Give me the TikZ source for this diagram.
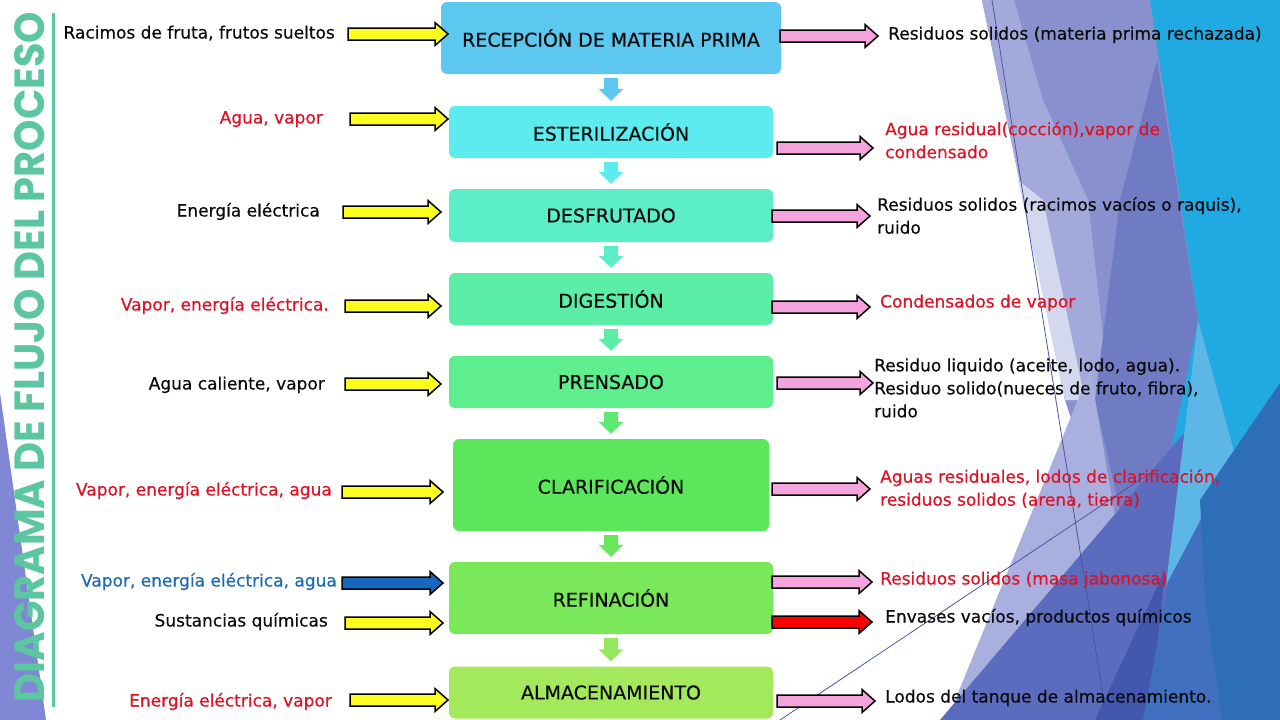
\documentclass[tikz,border=0pt]{standalone}
\usepackage{fontspec}
\usepackage{graphicx}
\setmainfont{DejaVu Sans}[FakeBold=0.4]
\newfontfamily\titlefont{Poppins}
\usetikzlibrary{calc}

\definecolor{cA}{RGB}{92,200,240}
\definecolor{cB}{RGB}{92,236,240}
\definecolor{cC}{RGB}{92,238,200}
\definecolor{cD}{RGB}{92,238,166}
\definecolor{cE}{RGB}{94,238,142}
\definecolor{cF}{RGB}{92,230,92}
\definecolor{cG}{RGB}{122,232,90}
\definecolor{cH}{RGB}{164,232,92}
\definecolor{txtblack}{RGB}{10,10,10}
\definecolor{txtred}{RGB}{222,18,36}
\definecolor{txtblue}{RGB}{28,108,178}
\definecolor{ayellow}{RGB}{252,252,30}
\definecolor{apink}{RGB}{245,163,220}
\definecolor{ablue}{RGB}{22,104,190}
\definecolor{ared}{RGB}{250,0,0}
\definecolor{titlegreen}{RGB}{92,198,160}
\definecolor{bgBright}{RGB}{33,169,225}
\definecolor{bgLav}{RGB}{136,145,205}
\definecolor{bgLight}{RGB}{163,170,219}
\definecolor{bgVLight}{RGB}{212,216,239}
\definecolor{bgSlate}{RGB}{111,124,196}
\definecolor{bgBotLight}{RGB}{169,176,224}
\definecolor{bgSlate2}{RGB}{91,107,190}
\definecolor{bgIndigo}{RGB}{66,87,174}
\definecolor{bgMedBlue}{RGB}{64,112,191}
\definecolor{bgLightBlue}{RGB}{92,182,230}
\definecolor{bgDarkBlue}{RGB}{46,109,184}
\definecolor{bgLeft}{RGB}{128,136,214}
\definecolor{bgLine}{RGB}{74,85,160}

\begin{document}
\begin{tikzpicture}[x=1pt,y=-1pt,
  lbl/.style={inner sep=0pt, font=\fontsize{17}{23}\selectfont, align=left},
  lblone/.style={lbl, text height=12.5pt, text depth=3.5pt},
  box/.style={rounded corners=6pt, inner sep=0pt, font=\fontsize{19}{23}\selectfont, text=txtblack},
  blk/.style={draw=black, line width=1.5pt, line join=miter},
  barrow/.style={to path={
    ([yshift=6pt]\tikztostart) -- ([xshift=-13pt,yshift=6pt]\tikztotarget)
    -- ([xshift=-13pt,yshift=11.5pt]\tikztotarget) -- (\tikztotarget)
    -- ([xshift=-13pt,yshift=-11.5pt]\tikztotarget) -- ([xshift=-13pt,yshift=-6pt]\tikztotarget)
    -- ([yshift=-6pt]\tikztostart) -- cycle}},
  vbarrow/.style={to path={
    ([xshift=-7pt]\tikztostart) -- ([xshift=-7pt,yshift=12pt]\tikztotarget)
    -- ([xshift=-12.5pt,yshift=12pt]\tikztotarget) -- (\tikztotarget)
    -- ([xshift=12.5pt,yshift=12pt]\tikztotarget) -- ([xshift=7pt,yshift=12pt]\tikztotarget)
    -- ([xshift=7pt]\tikztostart) -- cycle}},
]
\useasboundingbox (0,0) rectangle (1280,720);
\fill[white] (0,0) rectangle (1280,720);

% background facets
\fill[bgBright] (1148,0) -- (1280,0) -- (1280,720) -- (1148,720) -- cycle;
\fill[bgLav] (982,0) -- (1150,0) -- (1198,320) -- (1130,600) -- (1065,400) -- cycle;
\fill[bgLight] (982,0) -- (1014,0) -- (1043,100) -- (1088,200) -- (1110,400) -- (1065,400) -- cycle;
\fill[bgVLight] (1018,180) -- (1043,200) -- (1085,400) -- (1065,400) -- cycle;
\fill[bgSlate] (1157,60) -- (1198,320) -- (1140,600) -- (1095,400) -- (1120,200) -- cycle;
\fill[bgBotLight] (947,720) -- (1090,370) -- (1150,720) -- cycle;
\fill[bgSlate2] (940,720) -- (1195,420) -- (1215,720) -- cycle;
\fill[bgIndigo] (1095,720) -- (1165,570) -- (1150,720) -- cycle;
\fill[bgMedBlue] (1143,720) -- (1170,575) -- (1232,455) -- (1280,410) -- (1280,720) -- cycle;
\fill[bgLightBlue] (1198,320) -- (1235,455) -- (1166,585) -- cycle;
\fill[bgDarkBlue] (1280,383) -- (1200,500) -- (1205,600) -- (1222,720) -- (1280,720) -- cycle;
\fill[bgLeft] (0,393) -- (46,720) -- (0,720) -- cycle;
\coordinate (ln1a) at (992,0); \coordinate (ln1b) at (1107,720);
\coordinate (ln2a) at (780,720); \coordinate (ln2b) at (1150,473);
\draw[bgLine, line width=0.8pt] (ln1a) -- (ln1b);
\draw[bgLine, line width=0.8pt] (ln2a) -- (ln2b);

% title
\node[rotate=90, inner sep=0pt, text=titlegreen] (T) at (30,357)
  {\resizebox{690pt}{30pt}{\titlefont\bfseries DIAGRAMA DE FLUJO DEL PROCESO}};
\coordinate (tl1) at (53,13); \coordinate (tl2) at (53,707);
\draw[titlegreen, line width=3pt] (tl1) -- (tl2);

% process boxes
\node[box, fill=cA, minimum width=340pt, minimum height=72pt] (B1) at (611,38) {RECEPCIÓN DE MATERIA PRIMA};
\node[box, fill=cB, minimum width=324pt, minimum height=52pt] (B2) at (611,132) {ESTERILIZACIÓN};
\node[box, fill=cC, minimum width=324pt, minimum height=53pt] (B3) at (611,215.5) {DESFRUTADO};
\node[box, fill=cD, minimum width=324pt, minimum height=52pt] (B4) at (611,299) {DIGESTIÓN};
\node[box, fill=cE, minimum width=324pt, minimum height=52pt] (B5) at (611,382) {PRENSADO};
\node[box, fill=cF, minimum width=316pt, minimum height=92pt] (B6) at (611,485) {CLARIFICACIÓN};
\node[box, fill=cG, minimum width=324pt, minimum height=72pt] (B7) at (611,598) {REFINACIÓN};
\node[box, fill=cH, minimum width=324pt, minimum height=52pt] (B8) at (611,692.5) {ALMACENAMIENTO};

% down arrows
\foreach \a/\b/\col in {B1/B2/cA, B2/B3/cB, B3/B4/cC, B4/B5/cD, B5/B6/{cE!40!cF}, B6/B7/{cF!60!cG}, B7/B8/{cG!40!cH}} {
  \coordinate (\a d) at ($(\a.south)+(0,4)$);
  \coordinate (\b u) at ($(\b.north)+(0,-5)$);
  \fill[\col] (\a d) to[vbarrow] (\b u);
}

% left labels
\node[lblone, anchor=east, text=txtblack] (L1) at (335,34) {Racimos de fruta, frutos sueltos};
\node[lblone, anchor=east, text=txtred] (L2) at (323,119) {Agua, vapor};
\node[lblone, anchor=east, text=txtblack] (L3) at (320,212) {Energía eléctrica};
\node[lblone, anchor=east, text=txtred] (L4) at (329,306) {Vapor, energía eléctrica.};
\node[lblone, anchor=east, text=txtblack] (L5) at (325,385) {Agua caliente, vapor};
\node[lblone, anchor=east, text=txtred] (L6) at (332,491) {Vapor, energía eléctrica, agua};
\node[lblone, anchor=east, text=txtblue] (L7) at (337,582) {Vapor, energía eléctrica, agua};
\node[lblone, anchor=east, text=txtblack] (L8) at (328,622) {Sustancias químicas};
\node[lblone, anchor=east, text=txtred] (L9) at (332,702) {Energía eléctrica, vapor};

% right labels
\node[lblone, anchor=west, text=txtblack] (R1) at (888,35) {Residuos solidos (materia prima rechazada)};
\node[lbl, anchor=west, text=txtred] (R2) at (885,140) {Agua residual(cocción),vapor de\\condensado};
\node[lbl, anchor=west, text=txtblack] (R3) at (877,215.5) {Residuos solidos (racimos vacíos o raquis),\\ruido};
\node[lblone, anchor=west, text=txtred] (R4) at (880,303) {Condensados de vapor};
\node[lbl, anchor=west, text=txtblack] (R5) at (874,388) {Residuo liquido (aceite, lodo, agua).\\Residuo solido(nueces de fruto, fibra),\\ruido};
\node[lbl, anchor=west, text=txtred] (R6) at (880,488.5) {Aguas residuales, lodos de clarificación,\\residuos solidos (arena, tierra)};
\node[lblone, anchor=west, text=txtred] (R7) at (880,580) {Residuos solidos (masa jabonosa)};
\node[lblone, anchor=west, text=txtblack] (R8) at (885,618) {Envases vacíos, productos químicos};
\node[lblone, anchor=west, text=txtblack] (R9) at (885,698) {Lodos del tanque de almacenamiento.};

% input and output block arrows
\foreach \nm/\xa/\xb/\yy/\col in {
  i1/348/448/34/ayellow, i2/350/448/119/ayellow, i3/343/441/212/ayellow,
  i4/345/441/306/ayellow, i5/345/441/384/ayellow, i6/342/443/492/ayellow,
  i7/342/443/583/ablue, i8/345/443/623/ayellow, i9/350/448/700/ayellow,
  o1/780/878/36/apink, o2/777/873/148/apink, o3/772/870/216/apink,
  o4/772/870/307/apink, o5/777/873/383/apink, o6/772/870/489/apink,
  o7/772/872/582/apink, o8/772/872/622/ared, o9/777/875/701/apink} {
  \coordinate (\nm s) at (\xa,\yy);
  \coordinate (\nm e) at (\xb,\yy);
  \draw[blk, fill=\col] (\nm s) to[barrow] (\nm e);
}
\end{tikzpicture}
\end{document}
